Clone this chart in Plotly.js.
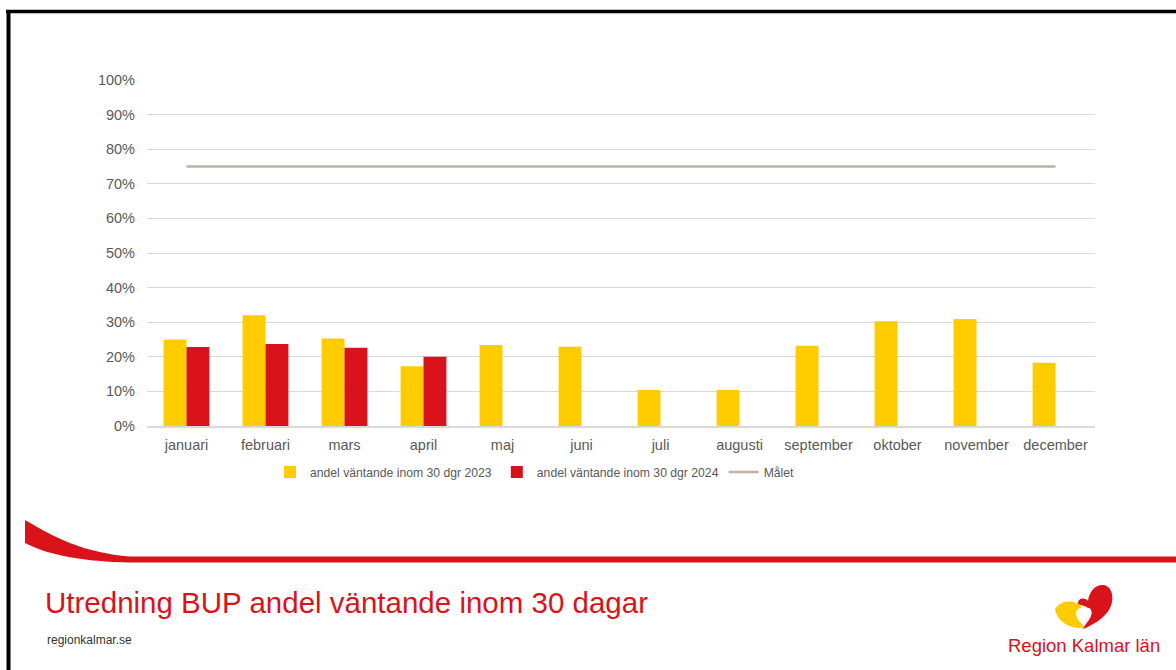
<!DOCTYPE html>
<html>
<head>
<meta charset="utf-8">
<script src="https://cdn.plot.ly/plotly-3.0.1.min.js"></script>
<style>
html,body{margin:0;padding:0;background:#fff;}
#chart{width:1176px;height:670px;}
</style>
</head>
<body>
<div id="chart"></div>
<script>
const months = ["januari","februari","mars","april","maj","juni","juli","augusti","september","oktober","november","december"];
const andel2023 = [0.25, 0.32, 0.253, 0.173, 0.234, 0.229, 0.104, 0.104, 0.232, 0.303, 0.309, 0.183];
const andel2024 = [0.228, 0.237, 0.226, 0.20, null, null, null, null, null, null, null, null];
const malet = [0.75, 0.75, 0.75, 0.75, 0.75, 0.75, 0.75, 0.75, 0.75, 0.75, 0.75, 0.75];
const seriesNames = ["andel väntande inom 30 dgr 2023", "andel väntande inom 30 dgr 2024", "Målet"];
const yTicks = [0,0.1,0.2,0.3,0.4,0.5,0.6,0.7,0.8,0.9,1.0];
const yTickText = ["0%","10%","20%","30%","40%","50%","60%","70%","80%","90%","100%"];
const slideTitle = "Utredning BUP andel väntande inom 30 dagar";
const siteText = "regionkalmar.se";
const logoText = "Region Kalmar län";

// layout geometry (pixels)
const W = 1176, H = 670;
const L = 147, R = 81, T = 80, B = 244;
const PW = W - L - R, PH = H - T - B;
function px(x){ return (x - L) / PW; }
function py(y){ return (H - B - y) / PH; }
function path(pts){
  return pts.map(c => {
    if (c[0] === "Z") return "Z";
    const nums = [];
    for (let i = 1; i < c.length; i += 2) nums.push(px(c[i]).toFixed(5) + "," + py(c[i+1]).toFixed(5));
    return c[0] + nums.join(" ");
  }).join(" ");
}

const RED = "#DA121A", YEL = "#FFCC00";
const font = "Liberation Sans, Arial, sans-serif";

const traces = [
  {type:"bar", name:seriesNames[0], x:months, y:andel2023, marker:{color:YEL}, hoverinfo:"x+y"},
  {type:"bar", name:seriesNames[1], x:months, y:andel2024, marker:{color:RED}, hoverinfo:"x+y"},
  {type:"scatter", mode:"lines", name:seriesNames[2], x:months, y:malet, line:{color:"#BDB1A9", width:2.5}}
];

const shapes = [
  // slide border (top & left)
  {type:"line", xref:"paper", yref:"paper", x0:px(6), x1:px(1176), y0:py(11.5), y1:py(11.5), line:{color:"#000", width:3.5}},
  {type:"line", xref:"paper", yref:"paper", x0:px(8.5), x1:px(8.5), y0:py(10), y1:py(670), line:{color:"#000", width:4}},
  // red swoosh
  {type:"path", xref:"paper", yref:"paper", fillcolor:RED, line:{width:0},
   path: path([["M",25,520],["C",55,538,85,553,130,556.5],["L",1176,556.5],["L",1176,562.5],["L",130,562.5],["C",85,561.5,50,556,25,543],["Z"]])},
  // logo yellow crescent
  {type:"path", xref:"paper", yref:"paper", fillcolor:YEL, line:{width:0},
   path: path([["M",1055,609],["C",1060,600,1074,599,1081,606],["L",1084,628],["C",1070,629,1057,622,1055,609],["Z"]])},
  // logo red shape
  {type:"path", xref:"paper", yref:"paper", fillcolor:RED, line:{width:0},
   path: path([["M",1078,604],["C",1078,598,1084,597,1088,601],["C",1089,591,1096,584,1104,585],["C",1113,587,1115,600,1109,610],["C",1103,619,1093,625,1083,629],["C",1088,621,1090,612,1087,607],["Z"]])},
  // white heart
  {type:"path", xref:"paper", yref:"paper", fillcolor:"#fff", line:{width:0},
   path: path([["M",1084,626],["C",1078,621,1074,614,1077,610],["C",1079,607,1083,608,1084,611],["C",1086,607,1090,607,1091,610],["C",1093,614,1090,620,1084,626],["Z"]])}
];

const annotations = [
  {xref:"paper", yref:"paper", x:px(43), y:py(602), xanchor:"left", yanchor:"middle", showarrow:false,
   text:slideTitle, font:{family:font, size:29.5, color:RED}},
  {xref:"paper", yref:"paper", x:px(45), y:py(640), xanchor:"left", yanchor:"middle", showarrow:false,
   text:siteText, font:{family:font, size:12, color:"#333333"}},
  {xref:"paper", yref:"paper", x:px(1006), y:py(645), xanchor:"left", yanchor:"middle", showarrow:false,
   text:logoText, font:{family:font, size:18.5, color:RED}}
];

const layout = {
  width:W, height:H,
  margin:{l:L, r:R, t:T, b:B, pad:0},
  paper_bgcolor:"#fff", plot_bgcolor:"#fff",
  barmode:"group", bargap:0.42, bargroupgap:0,
  font:{family:font, size:13, color:"#595959"},
  xaxis:{type:"category", showgrid:false, showline:true, linecolor:"#D9D9D9", linewidth:1.5,
         ticks:"", ticklabelstandoff:5, tickfont:{size:14.5, color:"#595959"}, fixedrange:true, automargin:false},
  yaxis:{range:[0,1.0], tickvals:yTicks, ticktext:yTickText, showgrid:true, gridcolor:"#D9D9D9", gridwidth:1,
         zeroline:false, showline:false, ticks:"", ticklabelstandoff:11, tickfont:{size:14.5, color:"#595959"},
         fixedrange:true, automargin:false},
  showlegend:true,
  legend:{orientation:"h", x:px(270), xanchor:"left", y:py(472), yanchor:"middle",
          font:{size:12.2, color:"#595959"}, itemwidth:30, bgcolor:"rgba(0,0,0,0)", traceorder:"normal"},
  shapes:shapes,
  annotations:annotations
};

Plotly.newPlot("chart", traces, layout, {displayModeBar:false, staticPlot:true});
</script>
</body>
</html>
